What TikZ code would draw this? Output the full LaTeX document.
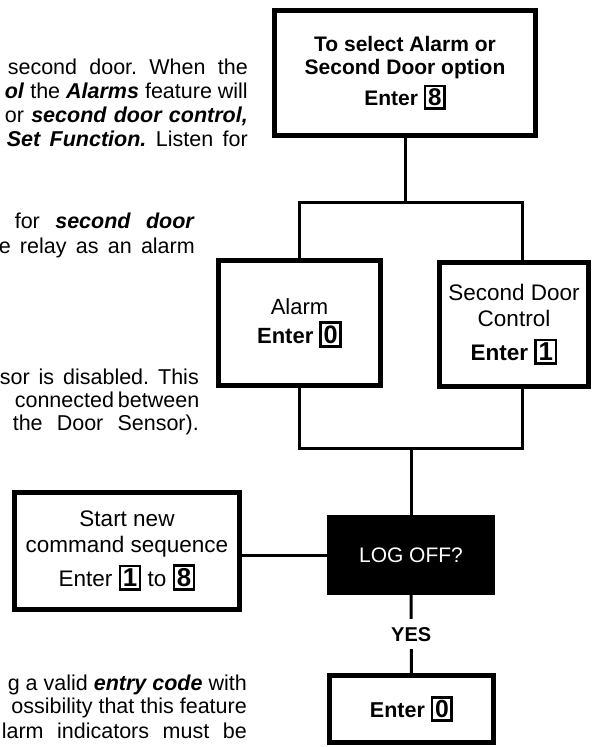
\documentclass[tikz,border=0pt]{standalone}
\usepackage{fontspec}
\setmainfont{Liberation Sans}
\frenchspacing
\newcommand\bfit[1]{\textbf{\textit{#1}}}
\newcommand\dgt[1]{{\setlength{\fboxrule}{2.6pt}\setlength{\fboxsep}{1.6pt}\fbox{\bfseries\scalebox{1.15}{#1}}}}
\begin{document}
\begin{tikzpicture}[x=1pt,y=-1pt,
  box/.style={draw, line width=4.5pt, fill=white, inner sep=0pt, align=center},
  conn/.style={line width=3pt},
  para/.style={anchor=base east, inner sep=0pt, font=\fontsize{21.5}{24}\selectfont},
  yeslbl/.style={fill=white, inner xsep=2pt, inner ysep=8pt, font=\bfseries\fontsize{20}{24}\selectfont}]
\useasboundingbox (0,0) rectangle (596,747);
\clip (0,0) rectangle (596,747);

% paragraph fragments
\node[para] (p1) at (248,74) {\makebox[240pt][s]{second door. When the}};
\node[para] (p2) at (248,98) {\bfit{ol} the \bfit{Alarms} feature will};
\node[para] (p3) at (248,122) {\makebox[243pt][s]{or \bfit{second door control,}}};
\node[para] (p4) at (248,146) {\makebox[241pt][s]{\bfit{Set Function.} Listen for}};
\node[para] (p5) at (195,228) {\makebox[180pt][s]{for \bfit{second door}}};
\node[para] (p6) at (195,253) {\makebox[196pt][s]{e relay as an alarm}};
\node[para] (p7) at (199,384) {\makebox[199pt][s]{sor is disabled. This}};
\node[para] (p8) at (199,407) {\makebox[184pt][s]{connected between}};
\node[para] (p9) at (199,430) {\makebox[186pt][s]{the Door Sensor).}};
\node[para] (p10) at (247,690) {g a valid \bfit{entry code} with};
\node[para] (p11) at (247,713) {ossibility that this feature};
\node[para] (p12) at (247,738) {\makebox[245pt][s]{larm indicators must be}};

% boxes
\node[box, minimum width=261pt, minimum height=125pt,
  font=\bfseries\fontsize{21}{23}\selectfont] (top) at (405,73)
  {To select Alarm or\\Second Door option\\[5pt]Enter \dgt{8}};
\node[box, minimum width=162pt, minimum height=125pt,
  font=\fontsize{22}{24}\selectfont] (alarm) at (299.5,323)
  {Alarm\\[5pt]\textbf{Enter \dgt{0}}};
\node[box, minimum width=149pt, minimum height=124pt,
  font=\fontsize{22.5}{26}\selectfont] (sdoor) at (514,324.5)
  {Second Door\\Control\\[8pt]\textbf{Enter \dgt{1}}};
\node[box, minimum width=225pt, minimum height=117pt,
  font=\fontsize{22.5}{26}\selectfont] (start) at (127,551)
  {Start new\\command sequence\\[6pt]Enter \dgt{1} to \dgt{8}};
\node[fill=black, minimum width=168pt, minimum height=80pt, inner sep=0pt,
  text=white, font=\fontsize{21}{24}\selectfont] (logoff) at (411,555) {LOG OFF?};
\node[box, minimum width=164pt, minimum height=67pt,
  font=\bfseries\fontsize{21.5}{24}\selectfont] (end) at (411.5,709)
  {Enter \dgt{0}};

% connectors
\coordinate (j1) at (405,202);
\coordinate (j2) at (411,448);
\draw[conn] (top.south) -- (j1);
\draw[conn] (alarm.north) |- (j1) -| ([xshift=8pt]sdoor.north);
\draw[conn] (alarm.south) |- (j2) -| ([xshift=8pt]sdoor.south);
\draw[conn] (j2) -- (logoff.north);
\draw[conn] (logoff.west) -- (logoff.west -| start.east);
\draw[conn] (logoff.south) -- node[yeslbl] (yes) {YES} (end.north);
\end{tikzpicture}
\end{document}
